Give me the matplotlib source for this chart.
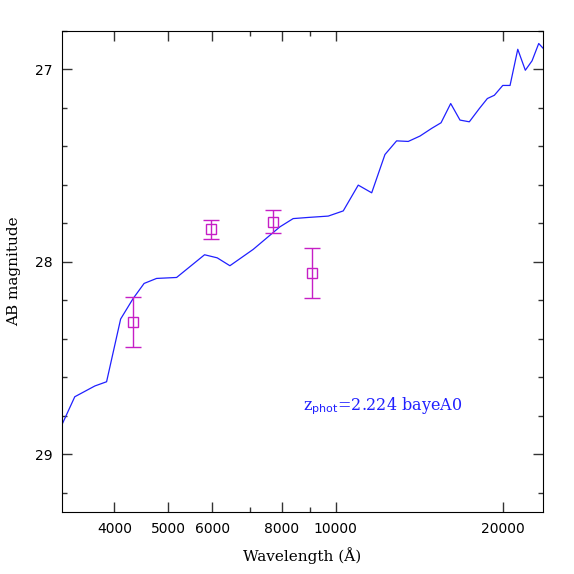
import numpy as np
import matplotlib
matplotlib.use('Agg')
import matplotlib.pyplot as plt
from matplotlib.ticker import FixedLocator, NullFormatter

# Модельный спектр (длина волны в Å, AB звёздная величина)
wave = [3222, 3395, 3689, 3873, 4105, 4324, 4524, 4764, 5176, 5811,
        6124, 6454, 7108, 7938, 8387, 8928, 9698, 10320, 10981, 11610,
        12265, 12872, 13508, 14180, 14884, 15472, 16103, 16735, 17394, 18131,
        18743, 19295, 19977, 20589, 21258, 21934, 22553, 23185, 23632]
mag = [28.844, 28.701, 28.645, 28.623, 28.297, 28.190, 28.112, 28.086, 28.081, 27.963,
       27.979, 28.020, 27.935, 27.818, 27.775, 27.769, 27.762, 27.735, 27.601, 27.641,
       27.442, 27.371, 27.374, 27.346, 27.306, 27.277, 27.177, 27.263, 27.272, 27.203,
       27.151, 27.134, 27.083, 27.083, 26.895, 27.004, 26.955, 26.865, 26.891]

# Фотометрия
phot_wave = [4324, 5958, 7722, 9076]
phot_mag = [28.311, 27.831, 27.792, 28.060]
phot_err = [0.13, 0.05, 0.06, 0.13]

fig = plt.figure(figsize=(5.74, 5.74), dpi=100)
ax = fig.add_axes([0.108, 0.108, 0.838, 0.838])

ax.plot(wave, mag, color='#2020ff', lw=0.9)
ax.errorbar(phot_wave, phot_mag, yerr=phot_err, fmt='s', mfc='none',
            mec='#c61fc6', ecolor='#c61fc6', ms=7, mew=1.0,
            elinewidth=1.0, capsize=6, capthick=1.0)

ax.set_xscale('log')
ax.set_xlim(3220, 23600)
ax.set_ylim(29.3, 26.8)

ax.xaxis.set_major_locator(FixedLocator([4000, 5000, 6000, 8000, 10000, 20000]))
ax.xaxis.set_minor_locator(FixedLocator([7000, 9000]))
ax.xaxis.set_minor_formatter(NullFormatter())
ax.set_xticklabels(['4000', '5000', '6000', '8000', '10000', '20000'])
ax.yaxis.set_major_locator(FixedLocator([27, 28, 29]))
ax.yaxis.set_minor_locator(FixedLocator(np.arange(26.8, 29.31, 0.2)))

serif = 'DejaVu Serif'
ax.tick_params(which='both', direction='in', top=True, right=True,
               color='#333333')
ax.tick_params(which='major', length=7, width=1, labelsize=10, pad=7)
ax.tick_params(which='minor', length=3.5, width=1)
for lab in ax.get_xticklabels() + ax.get_yticklabels():
    lab.set_family('DejaVu Sans')

ax.set_xlabel('Wavelength (Å)', family=serif, fontsize=11, labelpad=8)
ax.set_ylabel('AB magnitude', family=serif, fontsize=11, labelpad=10)

ax.text(0.501, 0.219, r'z$_{\rm phot}$=2.224 bayeA0', transform=ax.transAxes,
        color='#2020ff', family=serif, fontsize=11.5, ha='left', va='center')

fig.savefig('out.png', dpi=100)
